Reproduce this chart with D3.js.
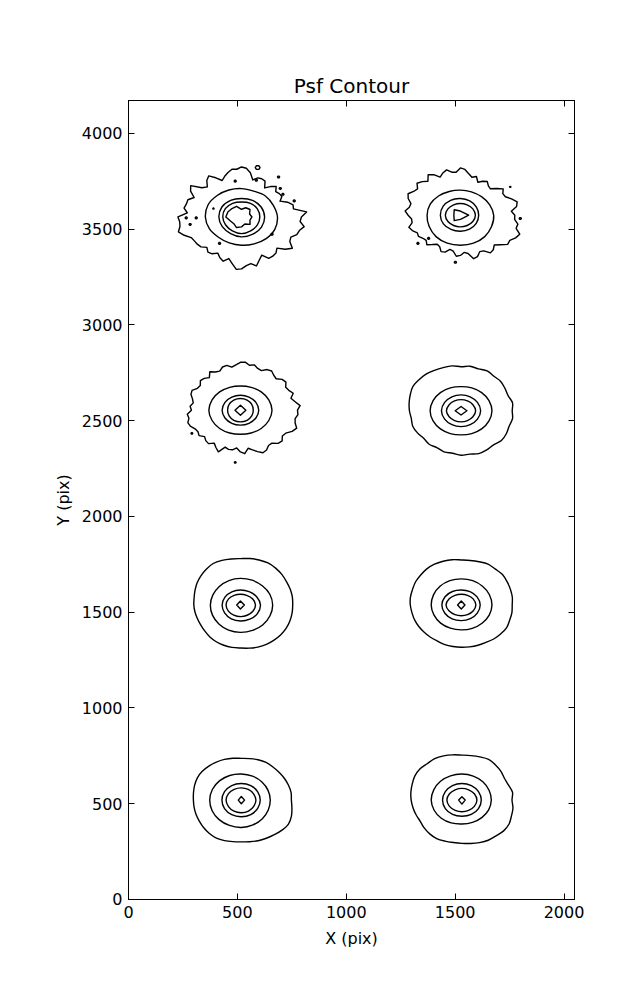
<!DOCTYPE html>
<html><head><meta charset="utf-8">
<script src="https://cdn.jsdelivr.net/npm/d3@7"></script>
<style>body{margin:0;background:#fff} text{font-family:"DejaVu Sans",sans-serif;fill:#000}</style>
</head><body><svg id="c" width="637" height="1000"></svg>
<script>
// ---- data (pixel-space of the detector, X/Y in pix) ----
const titleText = "Psf Contour";
const xLabel = "X (pix)";
const yLabel = "Y (pix)";
const xDomain = [0, 2048];
const yDomain = [0, 4172];
const xTicks = [0, 500, 1000, 1500, 2000];
const yTicks = [0, 500, 1000, 1500, 2000, 2500, 3000, 3500, 4000];

// PSF centres (pix)
const psfCenterX = [519, 1524, 514, 1527, 514, 1528, 518, 1531];
const psfCenterY = [3564, 3573, 2555, 2552, 1538, 1538, 519, 519];

// contour radii (pix), equally spaced angles starting East, counter-clockwise
const outerRadii = [
  [275,300,242,245,225,195,214,212,205,225,207,185,216,220,217,200,234,255,261,250,253,240,226,210,236,262,248,222,237,285,270,240,262,262,268,250,
   292,285,287,300,280,255,250,248,243,225,240,235,218,235,246,225,247,275,271,255,247,265,239,220,250,250,246,230,262,285,256,250,270,275,292,270],
  [250,235,262,270,250,228,225,240,217,195,200,215,205,190,215,205,220,240,247,225,228,245,235,220,245,258,232,248,260,240,248,265,255,235,238,255,
   240,225,225,245,235,218,222,210,205,218,200,185,190,210,205,185,190,215,210,195,203,235,230,210,215,240,235,220,240,265,262,280,290,265,268,250],
  [262,275,255,240,258,245,240,255,250,232,238,250,245,228,232,245,238,252,250,238,228,242,240,225,230,245,222,235,240,225,228,245,242,228,220,232,
   225,245,240,250,245,230,225,232,215,225,228,210,225,240,205,212,210,198,218,228,202,215,230,245,240,225,225,245,250,235,240,262,275,260,255,265],
  [235,240,230,233,238,235,240,233,236,230,238,240,244,250,252,255,248,242,237,232,236,231,224,228,222,228,225,232,230,238,236,232,242,240,235,240],
  [240,242,243,244,248,251,253,250,246,242,244,248,250,244,237,230,222,216,214,212,210,210,213,218,222,224,225,225,229,234,238,240,242,243,242,241],
  [234,238,240,243,247,244,246,240,236,235,240,243,246,246,243,242,238,237,234,230,228,225,222,220,218,220,220,221,222,224,226,232,236,240,236,236],
  [230,232,230,228,226,226,227,224,220,218,222,226,229,232,234,233,228,223,220,220,221,222,225,228,229,225,220,218,221,226,230,236,244,250,245,236],
  [230,236,228,226,234,240,245,240,236,235,240,246,250,248,252,250,243,238,233,228,224,221,226,230,232,228,225,226,230,236,242,244,250,250,242,238]
];
const ring2Radii = [
  [165,158,155,146,148,152,158,166,166,160,150,147,148,152,160,166],
  [153,145,137,132,131,134,142,150,153,155,158,158,157,158,158,155],
  [145,141,135,129,126,129,135,141,145,141,135,129,126,129,135,141],
  [142,139,134,129,126,129,134,139,142,139,134,129,126,129,134,139],
  [148,146,142,140,139,138,137,137,138,139,140,142,143,144,146,147],
  [141,140,138,137,136,137,138,138,138,136,134,131,130,132,135,139],
  [133,133,134,135,136,139,142,144,145,145,144,143,143,140,137,134],
  [135,135,136,136,136,137,139,140,141,138,134,129,125,126,129,133]
];
const ring3Radii = [
  [106,104,100,96,100,104,104,102,100,104,104,106],
  [84,85,86,87,90,92,92,90,86,84,84,84],
  [84,82,79,78,79,82,84,82,79,78,79,82],
  [90,87,84,83,84,87,90,87,84,83,84,87],
  [92,86,80,78,79,82,84,84,84,84,86,90],
  [87,84,80,78,81,86,89,87,84,82,83,85],
  [87,87,87,87,88,89,89,89,88,87,87,87],
  [89,88,87,87,87,88,89,88,86,84,86,88]
];
const ring4Radii = [
  [84,84,82,78,82,86,86,84,84,87,84,84],
  [69,66,62,61,62,66,69,66,62,61,62,66],
  [59,60,61,61,61,60,59,60,61,61,61,60],
  [67,63,59,58,59,63,67,63,59,58,59,63],
  [69,64,58,56,58,63,66,64,61,61,62,66],
  [67,63,58,56,58,64,70,64,58,56,58,63],
  [67,65,64,64,65,68,70,68,67,66,66,66],
  [69,66,62,61,62,66,69,66,62,61,62,66]
];
const coreRadii = [
  [48,40,55,52,40,60,62,68,72,55,50,60,52,40,55,42],
  [38,20,22,40,30,40,22,20],
  [25,26,25,26],
  [27,22,27,22],
  [18,21,17,21],
  [17,21,17,21],
  [15,19,14,19],
  [15,17,15,21]
];

// isolated noise contours (pix)
const noiseX = [593,490,587,689,697,709,761,265,311,283,418,659,390,1329,1378,1501,1799,1753,291,490];
const noiseY = [3822,3751,3756,3773,3713,3682,3648,3559,3559,3525,3426,3474,3608,3426,3452,3327,3556,3721,2434,2282];
const noiseR = [11,5,5,5,5,5,5,5,5,5,5,5,3,5,5,5,5,3,4,4];

// ---- drawing ----
const svg = d3.select("#c");
const x = d3.scaleLinear().domain(xDomain).range([128.5, 574.5]);
const y = d3.scaleLinear().domain(yDomain).range([899.5, 100.5]);

function ringPoints(cx, cy, radii) {
  const n = radii.length;
  return radii.map((r, i) => {
    const a = 2 * Math.PI * i / n;
    return [x(cx + r * Math.cos(a)), y(cy + r * Math.sin(a))];
  });
}
const linear = d3.line().curve(d3.curveLinearClosed);
const smooth = d3.line().curve(d3.curveCatmullRomClosed.alpha(0.5));
const ragged = [true, true, true, false, false, false, false, false];

const g = svg.append("g").attr("fill", "none").attr("stroke", "#000").attr("stroke-width", 1.4).attr("stroke-linejoin", "round");
psfCenterX.forEach((cx, i) => {
  const cy = psfCenterY[i];
  g.append("path").attr("d", (ragged[i] ? linear : smooth)(ringPoints(cx, cy, outerRadii[i])));
  g.append("path").attr("d", smooth(ringPoints(cx, cy, ring2Radii[i])));
  g.append("path").attr("d", smooth(ringPoints(cx, cy, ring3Radii[i])));
  g.append("path").attr("d", smooth(ringPoints(cx, cy, ring4Radii[i])));
  g.append("path").attr("d", linear(ringPoints(cx, cy, coreRadii[i])));
});
noiseX.forEach((nx, i) => {
  const r = noiseR[i];
  g.append("path").attr("d", linear(ringPoints(nx, noiseY[i], [r, r, r, r, r, r])));
});

// frame
const L = x(0), R = x(2048), T = y(4172), B = y(0);
svg.append("rect").attr("x", L).attr("y", T).attr("width", R - L).attr("height", B - T)
  .attr("fill", "none").attr("stroke", "#000").attr("stroke-width", 1);

// ticks (inward, all four sides)
const tk = svg.append("g").attr("stroke", "#000").attr("stroke-width", 1);
xTicks.forEach(t => {
  const px = Math.floor(x(t)) + 0.5;
  tk.append("line").attr("x1", px).attr("x2", px).attr("y1", B).attr("y2", B - 6);
  tk.append("line").attr("x1", px).attr("x2", px).attr("y1", T).attr("y2", T + 6);
  svg.append("text").attr("x", x(t)).attr("y", 918.3).attr("text-anchor", "middle")
    .attr("font-size", 16).text(t);
});
yTicks.forEach(t => {
  const py = Math.floor(y(t)) + 0.5;
  tk.append("line").attr("x1", L).attr("x2", L + 6).attr("y1", py).attr("y2", py);
  tk.append("line").attr("x1", R).attr("x2", R - 6).attr("y1", py).attr("y2", py);
  svg.append("text").attr("x", 122.5).attr("y", y(t) + 5.8).attr("text-anchor", "end")
    .attr("font-size", 16).text(t);
});

svg.append("text").attr("x", (L + R) / 2).attr("y", 93).attr("text-anchor", "middle")
  .attr("font-size", 20).text(titleText);
svg.append("text").attr("x", (L + R) / 2).attr("y", 944).attr("text-anchor", "middle")
  .attr("font-size", 16).text(xLabel);
svg.append("text").attr("transform", `translate(69,${(T + B) / 2}) rotate(-90)`).attr("text-anchor", "middle")
  .attr("font-size", 16).text(yLabel);
</script></body></html>
